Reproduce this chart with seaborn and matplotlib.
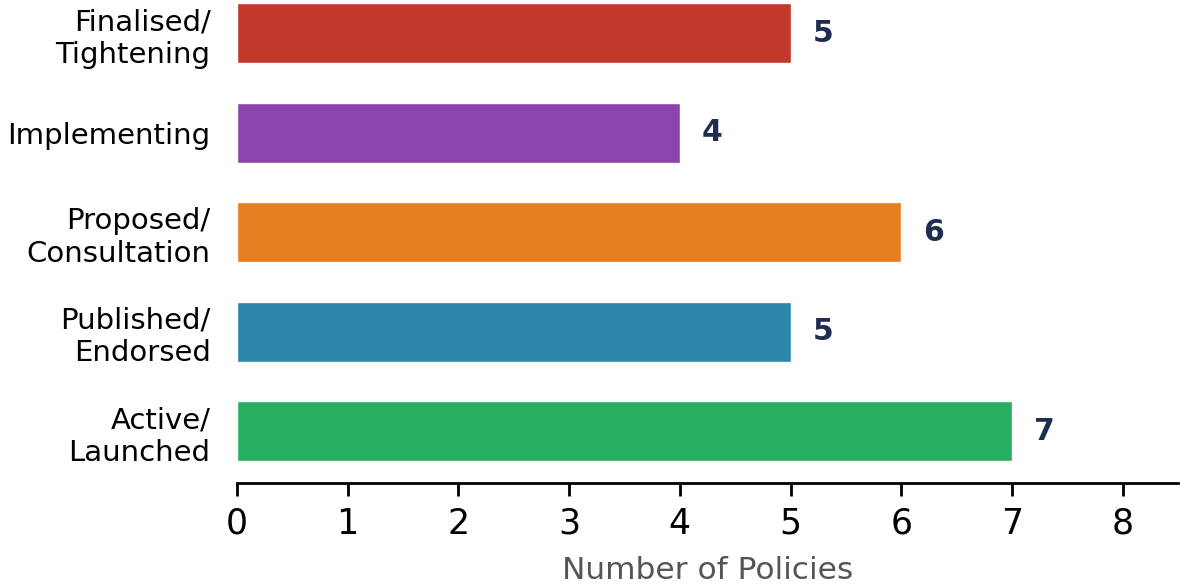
import pandas as pd
import numpy as np
import matplotlib.pyplot as plt
import seaborn as sns

# Policy counts by stage
stages = ['Finalised/\nTightening', 'Implementing', 'Proposed/\nConsultation',
          'Published/\nEndorsed', 'Active/\nLaunched']
counts = [5, 4, 6, 5, 7]
colors = ['#C0392B', '#8E44AD', '#E67E22', '#2E86AB', '#27AE60']

df = pd.DataFrame({'Stage': stages, 'Count': counts})

sns.set_style('white')
plt.rcParams['font.family'] = ['DejaVu Sans']

fig = plt.figure(figsize=(11.8, 5.87), dpi=100)
ax = fig.add_axes([0.2008, 0.1772, 0.7975, 0.822])

sns.barplot(data=df, x='Count', y='Stage', hue='Stage', palette=colors,
            orient='h', width=0.6, edgecolor='white', linewidth=1,
            saturation=1, legend=False, ax=ax)

# value labels
for i, v in enumerate(counts):
    ax.text(v + 0.2, i, str(v), va='center', ha='left', fontsize=21.5,
            fontweight='bold', color='#1F2D50')

ax.set_xlim(0, 8.5)
ax.set_ylim(4.52, -0.33)
ax.set_xticks(range(0, 9))
ax.set_xlabel('Number of Policies', fontsize=22.5, color='#555555', labelpad=11)
ax.set_ylabel('')
ax.tick_params(axis='x', bottom=True, labelsize=25, length=9, width=2, pad=8,
               color='black', labelcolor='black')
ax.tick_params(axis='y', labelsize=21, length=0, pad=19, labelcolor='black')
for lbl in ax.get_yticklabels():
    lbl.set_multialignment('right')

sns.despine(ax=ax, left=True)
ax.spines['bottom'].set_linewidth(2)
ax.spines['bottom'].set_color('black')

plt.savefig('out.png', dpi=100)
